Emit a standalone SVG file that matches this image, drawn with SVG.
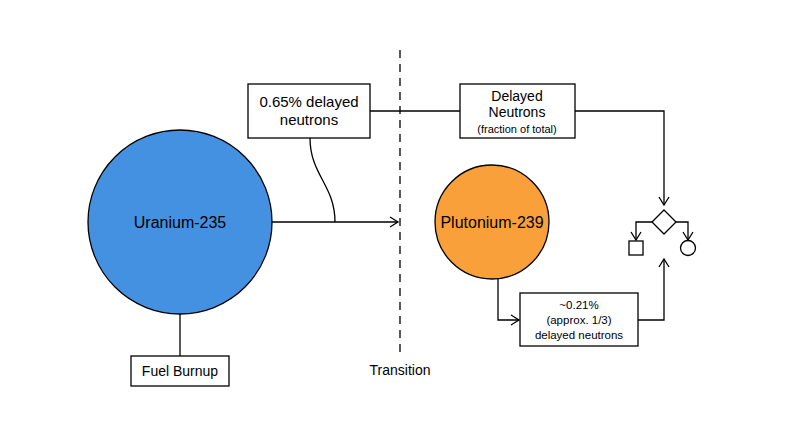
<svg xmlns="http://www.w3.org/2000/svg" width="800" height="447" viewBox="0 0 800 447">
<style>
text{font-family:"Helvetica Neue","Liberation Sans",Arial,sans-serif;fill:#000}
.b{fill:#fff;stroke:#000;stroke-width:1.3}
.l{fill:none;stroke:#000;stroke-width:1.3}
</style>
<defs><marker id="a" markerWidth="12" markerHeight="12" refX="10" refY="6" orient="auto" markerUnits="userSpaceOnUse"><path d="M2,1 L10,6 L2,11" fill="none" stroke="#000" stroke-width="1.3"/></marker></defs>
<rect width="800" height="447" fill="#fff"/>
<g id="connectors">
<line class="l" x1="400" y1="50" x2="400" y2="356" stroke-dasharray="8,6" stroke-width="2"/>
<line class="l" x1="272" y1="222" x2="398" y2="222" marker-end="url(#a)"/>
<path class="l" d="M310,138 C310,175 335,185 335,222"/>
<line class="l" x1="370" y1="111" x2="460" y2="111"/>
<path class="l" d="M575,111 H664 V205" marker-end="url(#a)"/>
<path class="l" d="M652,222 H636 V240" marker-end="url(#a)"/>
<path class="l" d="M676,222 H688 V240" marker-end="url(#a)"/>
<path class="l" d="M498,279 V320 H519" marker-end="url(#a)"/>
<path class="l" d="M638,320 H664 V259" marker-end="url(#a)"/>
<line class="l" x1="180" y1="314" x2="180" y2="356"/>
</g>
<g id="u235"><circle cx="180" cy="222" r="92" fill="#4391e0" stroke="#000" stroke-width="1.3"/><text x="180" y="228" font-size="16" text-anchor="middle">Uranium-235</text></g>
<g id="pu239"><circle cx="492" cy="222" r="57" fill="#f9a03a" stroke="#000" stroke-width="1.3"/><text x="492" y="228" font-size="16" text-anchor="middle">Plutonium-239</text></g>
<g id="box065"><rect class="b" x="248" y="84" width="122" height="54"/><text x="309" y="107" font-size="15" text-anchor="middle">0.65% delayed</text><text x="309" y="125" font-size="15" text-anchor="middle">neutrons</text></g>
<g id="delayed"><rect class="b" x="460" y="84" width="115" height="54"/><text x="517" y="101" font-size="14" text-anchor="middle">Delayed</text><text x="517" y="117" font-size="14" text-anchor="middle">Neutrons</text><text x="517" y="133" font-size="11" text-anchor="middle">(fraction of total)</text></g>
<g id="legend"><path class="b" d="M664,210 L676,222 L664,234 L652,222 Z"/><rect class="b" x="629" y="241" width="14" height="14"/><circle class="b" cx="688" cy="248" r="7.5"/></g>
<g id="box021"><rect class="b" x="520" y="293" width="118" height="53"/><text x="579" y="309" font-size="11.5" text-anchor="middle">~0.21%</text><text x="579" y="324" font-size="11.5" text-anchor="middle">(approx. 1/3)</text><text x="579" y="339" font-size="11.5" text-anchor="middle">delayed neutrons</text></g>
<g id="burnup"><rect class="b" x="131" y="356" width="98" height="30"/><text x="180" y="376" font-size="14" text-anchor="middle">Fuel Burnup</text></g>
<g id="transition"><text x="400" y="375" font-size="14" text-anchor="middle">Transition</text></g>
</svg>
